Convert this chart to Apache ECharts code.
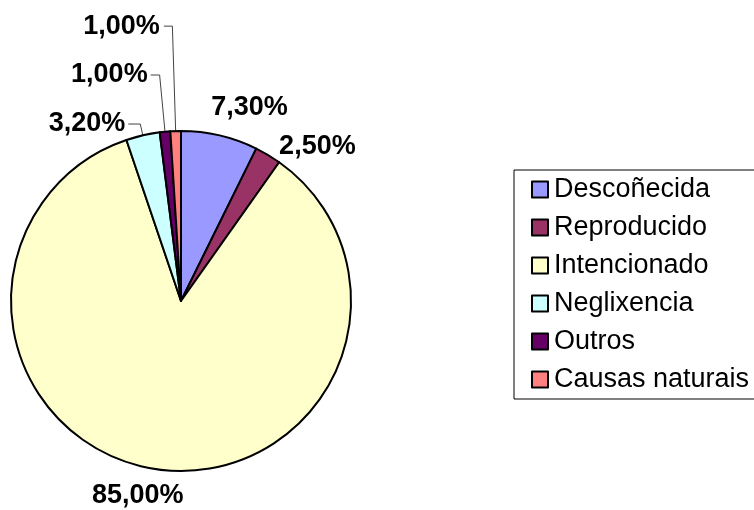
<!DOCTYPE html>
<html>
<head>
<meta charset="utf-8">
<script src="https://cdn.jsdelivr.net/npm/echarts@6/dist/echarts.min.js"></script>
<style>
  html, body { margin: 0; padding: 0; background: #ffffff; }
  #chart { width: 754px; height: 510px; }
</style>
</head>
<body>
<div id="chart"></div>
<script>
// ---- data ----
const categories = ['Descoñecida', 'Reproducido', 'Intencionado', 'Neglixencia', 'Outros', 'Causas naturais'];
const values = [7.3, 2.5, 85.0, 3.2, 1.0, 1.0];
const colors = ['#9999FF', '#993366', '#FFFFCC', '#CCFFFF', '#660066', '#FF8080'];

// ---- label placement (style only) ----
const labelStyles = [
  { len: 29, len2: -20, dist: 5, line: false },
  { len: 10, len2: 1, dist: 5, line: false },
  { len: 27, len2: -36, dist: 5, line: false },
  { len: 11.6, len2: 12, dist: 3, line: true },
  { len: 57, len2: 9, dist: 3, line: true },
  { len: 105, len2: 8.5, dist: 4, line: true }
];

const fmt = v => v.toFixed(2).replace('.', ',') + '%';

const seriesData = categories.map((name, i) => ({
  name: name,
  value: values[i],
  itemStyle: { color: colors[i] },
  label: { distanceToLabelLine: labelStyles[i].dist },
  labelLine: {
    show: labelStyles[i].line,
    length: labelStyles[i].len,
    length2: labelStyles[i].len2
  }
}));

const chart = echarts.init(document.getElementById('chart'), null, { renderer: 'canvas' });
chart.setOption({
  backgroundColor: '#ffffff',
  animation: false,
  legend: {
    orient: 'vertical',
    left: 514,
    top: 170,
    padding: [6, 60, 6, 17],
    itemWidth: 16,
    itemHeight: 16,
    itemGap: 11,
    borderColor: '#000000',
    borderWidth: 1,
    icon: 'rect',
    itemStyle: { borderColor: '#000000', borderWidth: 2 },
    textStyle: { fontFamily: 'Liberation Sans', fontSize: 27, color: '#000000', padding: [0, 0, 0, 1] },
    data: categories
  },
  series: [{
    type: 'pie',
    center: [181, 301],
    radius: 170,
    startAngle: 90,
    clockwise: true,
    avoidLabelOverlap: false,
    data: seriesData,
    itemStyle: { borderColor: '#000000', borderWidth: 2 },
    label: {
      show: true,
      position: 'outside',
      formatter: p => fmt(p.value),
      fontFamily: 'Liberation Sans',
      fontWeight: 'bold',
      fontSize: 27,
      color: '#000000'
    },
    labelLine: {
      lineStyle: { color: '#444444', width: 1 },
      smooth: false
    },
    emphasis: { disabled: true }
  }]
});
</script>
</body>
</html>
